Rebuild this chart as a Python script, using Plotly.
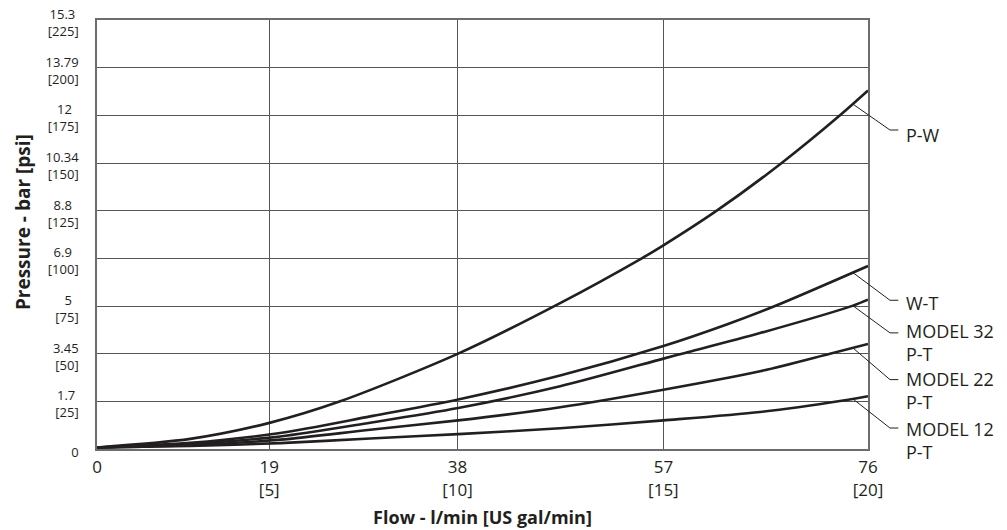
import numpy as np
import plotly.graph_objects as go

# ---------------- data ----------------
FLOW_MAX = 76
PSI_MAX = 225

# x tick positions as drawn on the original grid (flow axis), and their labels
x_tick_pos = [0, 16.98, 35.53, 55.83, 76]
x_tick_lpm = ["0", "19", "38", "57", "76"]
x_tick_gpm = ["", "[5]", "[10]", "[15]", "[20]"]

# y ticks (psi) with bar labels
y_tick_psi = [0, 25, 50, 75, 100, 125, 150, 175, 200, 225]
y_tick_bar = ["0", "1.7", "3.45", "5", "6.9", "8.8", "10.34", "12", "13.79", "15.3"]

flow_pw = [0, 9.19, 17.0, 23.97, 35.6, 45.65, 53.7, 55.83, 61.09, 67.49, 73.24, 76]
psi_pw = [0.8, 5.3, 13.7, 25, 50, 76.5, 100, 106.8, 125, 150, 175, 188]

flow_wt = [0, 9.19, 18.06, 26.93, 35.6, 45.65, 55.83, 62.07, 66.83, 76]
psi_wt = [0.8, 3.2, 8.4, 17.1, 26, 38.5, 54, 65.3, 75, 96]

flow_m32 = [0, 9.19, 18.06, 26.93, 35.6, 45.65, 55.83, 57.97, 65.36, 74.52, 76]
psi_m32 = [0.8, 2.7, 6.6, 13.8, 21.5, 32.9, 47.4, 50.4, 60.8, 75.2, 78.3]

flow_m22 = [0, 9.19, 18.06, 26.93, 35.6, 45.65, 55.83, 65.36, 72.25, 76]
psi_m22 = [0.8, 2.0, 4.9, 10.1, 15, 21.9, 31.1, 40.8, 50, 55.1]

flow_m12 = [0, 9.19, 18.06, 26.93, 35.6, 45.65, 55.83, 65.36, 73.4, 76]
psi_m12 = [0.8, 1.6, 3.1, 5.5, 7.8, 10.9, 15, 19.4, 25.3, 27.7]

series_names = ["P-W", "W-T", "MODEL 32 P-T", "MODEL 22 P-T", "MODEL 12 P-T"]
label_texts = ["P-W", "W-T", "MODEL 32<br>P-T", "MODEL 22<br>P-T", "MODEL 12<br>P-T"]
label_elbow_psi = [167.3, 78, 60.9, 36.4, 11]
label_center_psi = [164.6, 76.8, 55.6, 30.5, 4.4]

series = [
    (flow_pw, psi_pw),
    (flow_wt, psi_wt),
    (flow_m32, psi_m32),
    (flow_m22, psi_m22),
    (flow_m12, psi_m12),
]

# ---------------- style ----------------
FONT = "Open Sans"
TEXT_COLOR = "#231f20"
CURVE_COLOR = "#231f20"
GRID_COLOR = "#555555"
FRAME_COLOR = "#6d6d6d"

fig = go.Figure()

for name, (fx, fy) in zip(series_names, series):
    fig.add_trace(go.Scatter(
        x=fx, y=fy, mode="lines", name=name,
        line=dict(color=CURVE_COLOR, width=2.6, shape="spline", smoothing=0.8),
        showlegend=False,
    ))

# invisible trace to carry the secondary x axis (US gal/min labels)
fig.add_trace(go.Scatter(x=[0, FLOW_MAX], y=[0, 0], xaxis="x2", mode="lines",
                         line=dict(width=0), opacity=0, showlegend=False,
                         hoverinfo="skip"))

# leader lines + labels
LEADER_START = 74.5
ELBOW_X = 1.0285
STUB_X = 1.0393
TEXT_X = 1.0462
for (fx, fy), text, elbow, center in zip(series, label_texts, label_elbow_psi, label_center_psi):
    y0 = float(np.interp(LEADER_START, fx, fy))
    fig.add_shape(type="line", xref="paper", yref="paper",
                  x0=LEADER_START / FLOW_MAX, y0=y0 / PSI_MAX,
                  x1=ELBOW_X, y1=elbow / PSI_MAX,
                  line=dict(color=CURVE_COLOR, width=1))
    fig.add_shape(type="line", xref="paper", yref="paper",
                  x0=ELBOW_X, y0=elbow / PSI_MAX, x1=STUB_X, y1=elbow / PSI_MAX,
                  line=dict(color=CURVE_COLOR, width=1))
    fig.add_annotation(text=text, xref="paper", yref="paper",
                       x=TEXT_X, y=center / PSI_MAX, align="left",
                       xanchor="left", yanchor="middle", showarrow=False,
                       font=dict(family=FONT, size=18, color=TEXT_COLOR))


# centre the two lines of each y tick label (labels are right-aligned by default)
def _em(s):
    w = {".": 0.266, "[": 0.3, "]": 0.3}
    return sum(w.get(c, 0.572) for c in s)


def _two_line(top, bottom):
    d = _em(top) - _em(bottom)
    n = int(round(abs(d) / 2 / 0.26))
    pad = "&nbsp;" * n
    if d > 0:
        bottom = bottom + pad
    else:
        top = top + pad
    return f"{top}<br>{bottom}"


y_ticktext = [b if p == 0 else _two_line(b, f"[{p}]") for b, p in zip(y_tick_bar, y_tick_psi)]

fig.update_layout(
    width=1007, height=530,
    margin=dict(l=97, r=139, t=20, b=81, autoexpand=False),
    paper_bgcolor="white", plot_bgcolor="white",
    font=dict(family=FONT, color=TEXT_COLOR),
    xaxis=dict(
        range=[0, FLOW_MAX], tickmode="array", tickvals=x_tick_pos, ticktext=x_tick_lpm,
        showgrid=True, gridcolor=GRID_COLOR, gridwidth=1, zeroline=False,
        showline=True, mirror=True, linecolor=FRAME_COLOR, linewidth=1.5,
        ticks="", ticklabelstandoff=2, automargin=False,
        tickfont=dict(family=FONT, size=17, color=TEXT_COLOR),
        title=dict(text="<b>Flow - l/min [US gal/min]</b>", standoff=34,
                   font=dict(family=FONT, size=18, color=TEXT_COLOR)),
    ),
    xaxis2=dict(
        range=[0, FLOW_MAX], overlaying="x", anchor="y", side="bottom",
        tickmode="array", tickvals=x_tick_pos, ticktext=x_tick_gpm,
        showgrid=False, zeroline=False, showline=False, ticks="",
        ticklabelstandoff=29, automargin=False,
        tickfont=dict(family=FONT, size=17, color=TEXT_COLOR),
    ),
    yaxis=dict(
        range=[0, PSI_MAX], tickmode="array", tickvals=y_tick_psi, ticktext=y_ticktext,
        showgrid=True, gridcolor=GRID_COLOR, gridwidth=1, zeroline=False,
        showline=True, mirror=True, linecolor=FRAME_COLOR, linewidth=1.5,
        ticks="", ticklabelstandoff=14, ticklabelshift=3, ticklabeloverflow="allow",
        automargin=False,
        tickfont=dict(family=FONT, size=13, color=TEXT_COLOR),
        title=dict(text="&nbsp;" * 5 + "<b>Pressure - bar [psi]</b>", standoff=10,
                   font=dict(family=FONT, size=19, color=TEXT_COLOR)),
    ),
)

fig.write_html("out.html", config={"displayModeBar": False},
               post_script="document.body.style.margin='0px';")
